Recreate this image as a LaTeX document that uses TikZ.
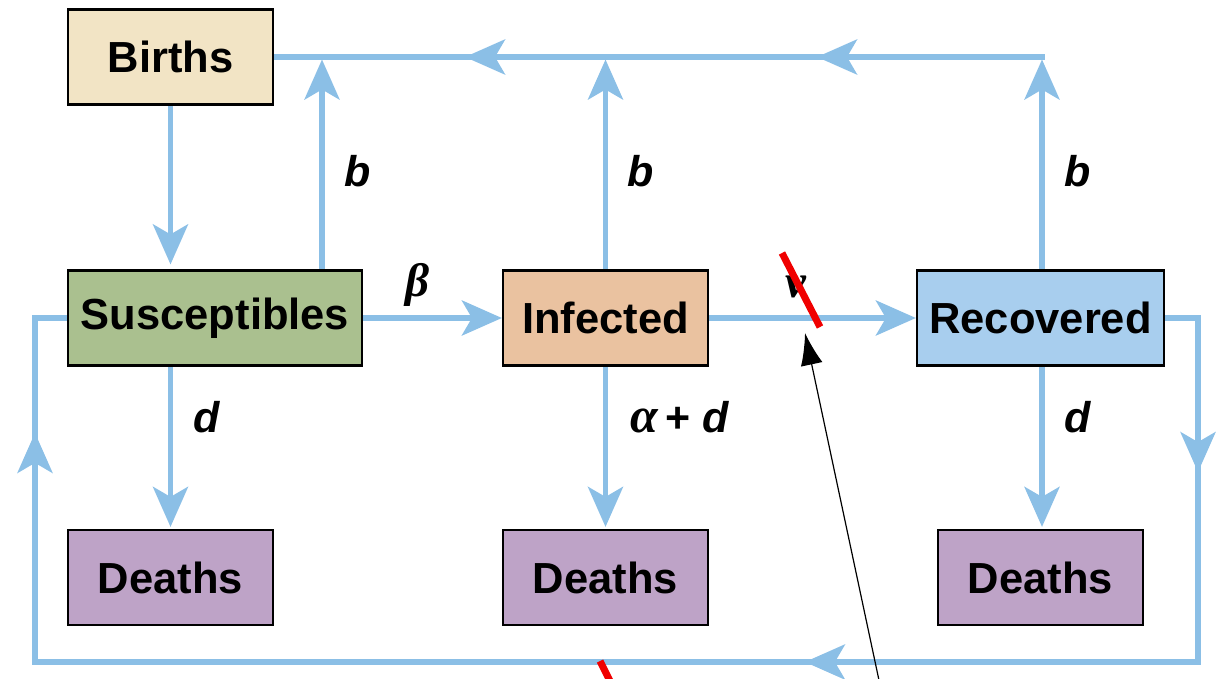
\documentclass[tikz,border=0pt]{standalone}
\usepackage{fontspec}
\setmainfont{Liberation Sans}
\newfontfamily\greekface{Liberation Serif}
\usetikzlibrary{arrows.meta,decorations.markings}

\definecolor{flowblue}{RGB}{139,191,230}
\definecolor{birthfill}{RGB}{242,228,197}
\definecolor{suscfill}{RGB}{170,192,143}
\definecolor{inffill}{RGB}{234,194,160}
\definecolor{recfill}{RGB}{168,206,238}
\definecolor{deathfill}{RGB}{190,163,199}
\definecolor{strike}{RGB}{240,0,0}

\pgfdeclarelayer{bg}
\pgfsetlayers{bg,main}

\tikzset{
  x=1pt, y=-1pt,
  box/.style={draw=black, line width=2.2pt, minimum height=95pt, inner sep=0pt,
    font=\fontsize{43.5}{50}\selectfont\bfseries},
  flowtip/.tip={Stealth[length=40pt, width=35pt, inset=10pt]},
  flow/.style={draw=flowblue, line width=5.5pt},
  flowarrow/.style={flow, -{flowtip}},
  rate/.style={font=\fontsize{43}{50}\selectfont\bfseries\itshape, inner sep=0pt},
  greek/.style={font=\fontsize{47}{52}\selectfont\greekface\bfseries\itshape, inner sep=0pt},
  strikeline/.style={draw=strike, line width=7pt},
  pointer/.style={draw=black, line width=1.2pt, -{Latex[length=32pt, width=22pt]}}
}

\begin{document}
\begin{tikzpicture}
\useasboundingbox (0,0) rectangle (1222,679);

% compartments
\node[box, fill=birthfill, minimum width=205pt] (Births) at (170.5,57) {Births};
\node[box, fill=suscfill,  minimum width=294pt] (Susc)   at (215,318)   {Susceptibles};
\node[box, fill=inffill,   minimum width=205pt] (Inf)    at (605.5,318) {Infected};
\node[box, fill=recfill,   minimum width=247pt] (Rec)    at (1040.5,318) {Recovered};
\node[box, fill=deathfill, minimum width=205pt] (DeathS) at (170.5,577.5) {Deaths};
\node[box, fill=deathfill, minimum width=205pt] (DeathI) at (605.5,577.5) {Deaths};
\node[box, fill=deathfill, minimum width=205pt] (DeathR) at (1040.5,577.5) {Deaths};

% junctions on the birth line and corners of the return loop
\coordinate (jS) at (322,57);
\coordinate (jI) at (605.5,57);
\coordinate (jR) at (1042,57);
\coordinate (cR1) at (1198,318);
\coordinate (cR2) at (1198,662);
\coordinate (cL2) at (35,662);
\coordinate (cL1) at (35,318);

\begin{pgfonlayer}{bg}
  % births feeding back
  \draw[flow, line cap=rect,
        postaction={decorate},
        decoration={markings,
          mark=at position 225pt with {\arrow{flowtip}},
          mark=at position 577pt with {\arrow{flowtip}}}]
    (jR) -- (Births.east);
  \draw[flowarrow, shorten >=2.5pt] (Susc.north -| jS) -- (jS);
  \draw[flowarrow, shorten >=2.5pt] (Inf.north) -- (jI);
  \draw[flowarrow, shorten >=2.5pt] (Rec.north -| jR) -- (jR);
  \draw[flowarrow, shorten >=5pt] (Births.south) -- (Births.south |- Susc.north);

  % infection and recovery
  \draw[flowarrow] (Susc.east) -- (Inf.west);
  \draw[flowarrow] (Inf.east) -- (Rec.west);

  % deaths
  \draw[flowarrow, shorten >=2pt] (DeathS.north |- Susc.south) -- (DeathS.north);
  \draw[flowarrow, shorten >=2pt] (Inf.south) -- (DeathI.north);
  \draw[flowarrow, shorten >=2pt] (Rec.south -| jR) -- (DeathR.north -| jR);

  % loss of immunity loop
  \draw[flow, postaction={decorate},
        decoration={markings,
          mark=at position 187pt with {\arrow{flowtip}},
          mark=at position 770pt with {\arrow{flowtip}},
          mark=at position 1769pt with {\arrow{flowtip}}}]
    (Rec.east) -- (cR1) -- (cR2) -- (cL2) -- (cL1) -- (Susc.west);
\end{pgfonlayer}

% rates
\node[rate] (bS) at (358,171) {b};
\node[rate] (bI) at (641,171) {b};
\node[rate] (bR) at (1078,171) {b};
\node[rate] (dS) at (207,417) {d};
\node[rate] (dR) at (1078,417) {d};
\node[rate, font=\fontsize{43}{50}\selectfont\bfseries] (aI) at (680,417)
  {{\fontsize{50}{52}\selectfont\greekface\itshape α}\,+ \itshape d};
\node[greek] (beta) at (418,285) {β};
\node[greek] (nu) at (796,287) {ν};

% struck-out marks
\coordinate (s1a) at (782,253);
\coordinate (s1b) at (820,327);
\coordinate (s2a) at (600,661);
\coordinate (s2b) at (611,683);
\draw[strikeline] (s1a) -- (s1b);
\draw[strikeline] (s2a) -- (s2b);

% pointer to the recovery mark
\coordinate (pTail) at (880,685);
\coordinate (pTip) at (805,333);
\draw[pointer] (pTail) -- (pTip);
\end{tikzpicture}
\end{document}
